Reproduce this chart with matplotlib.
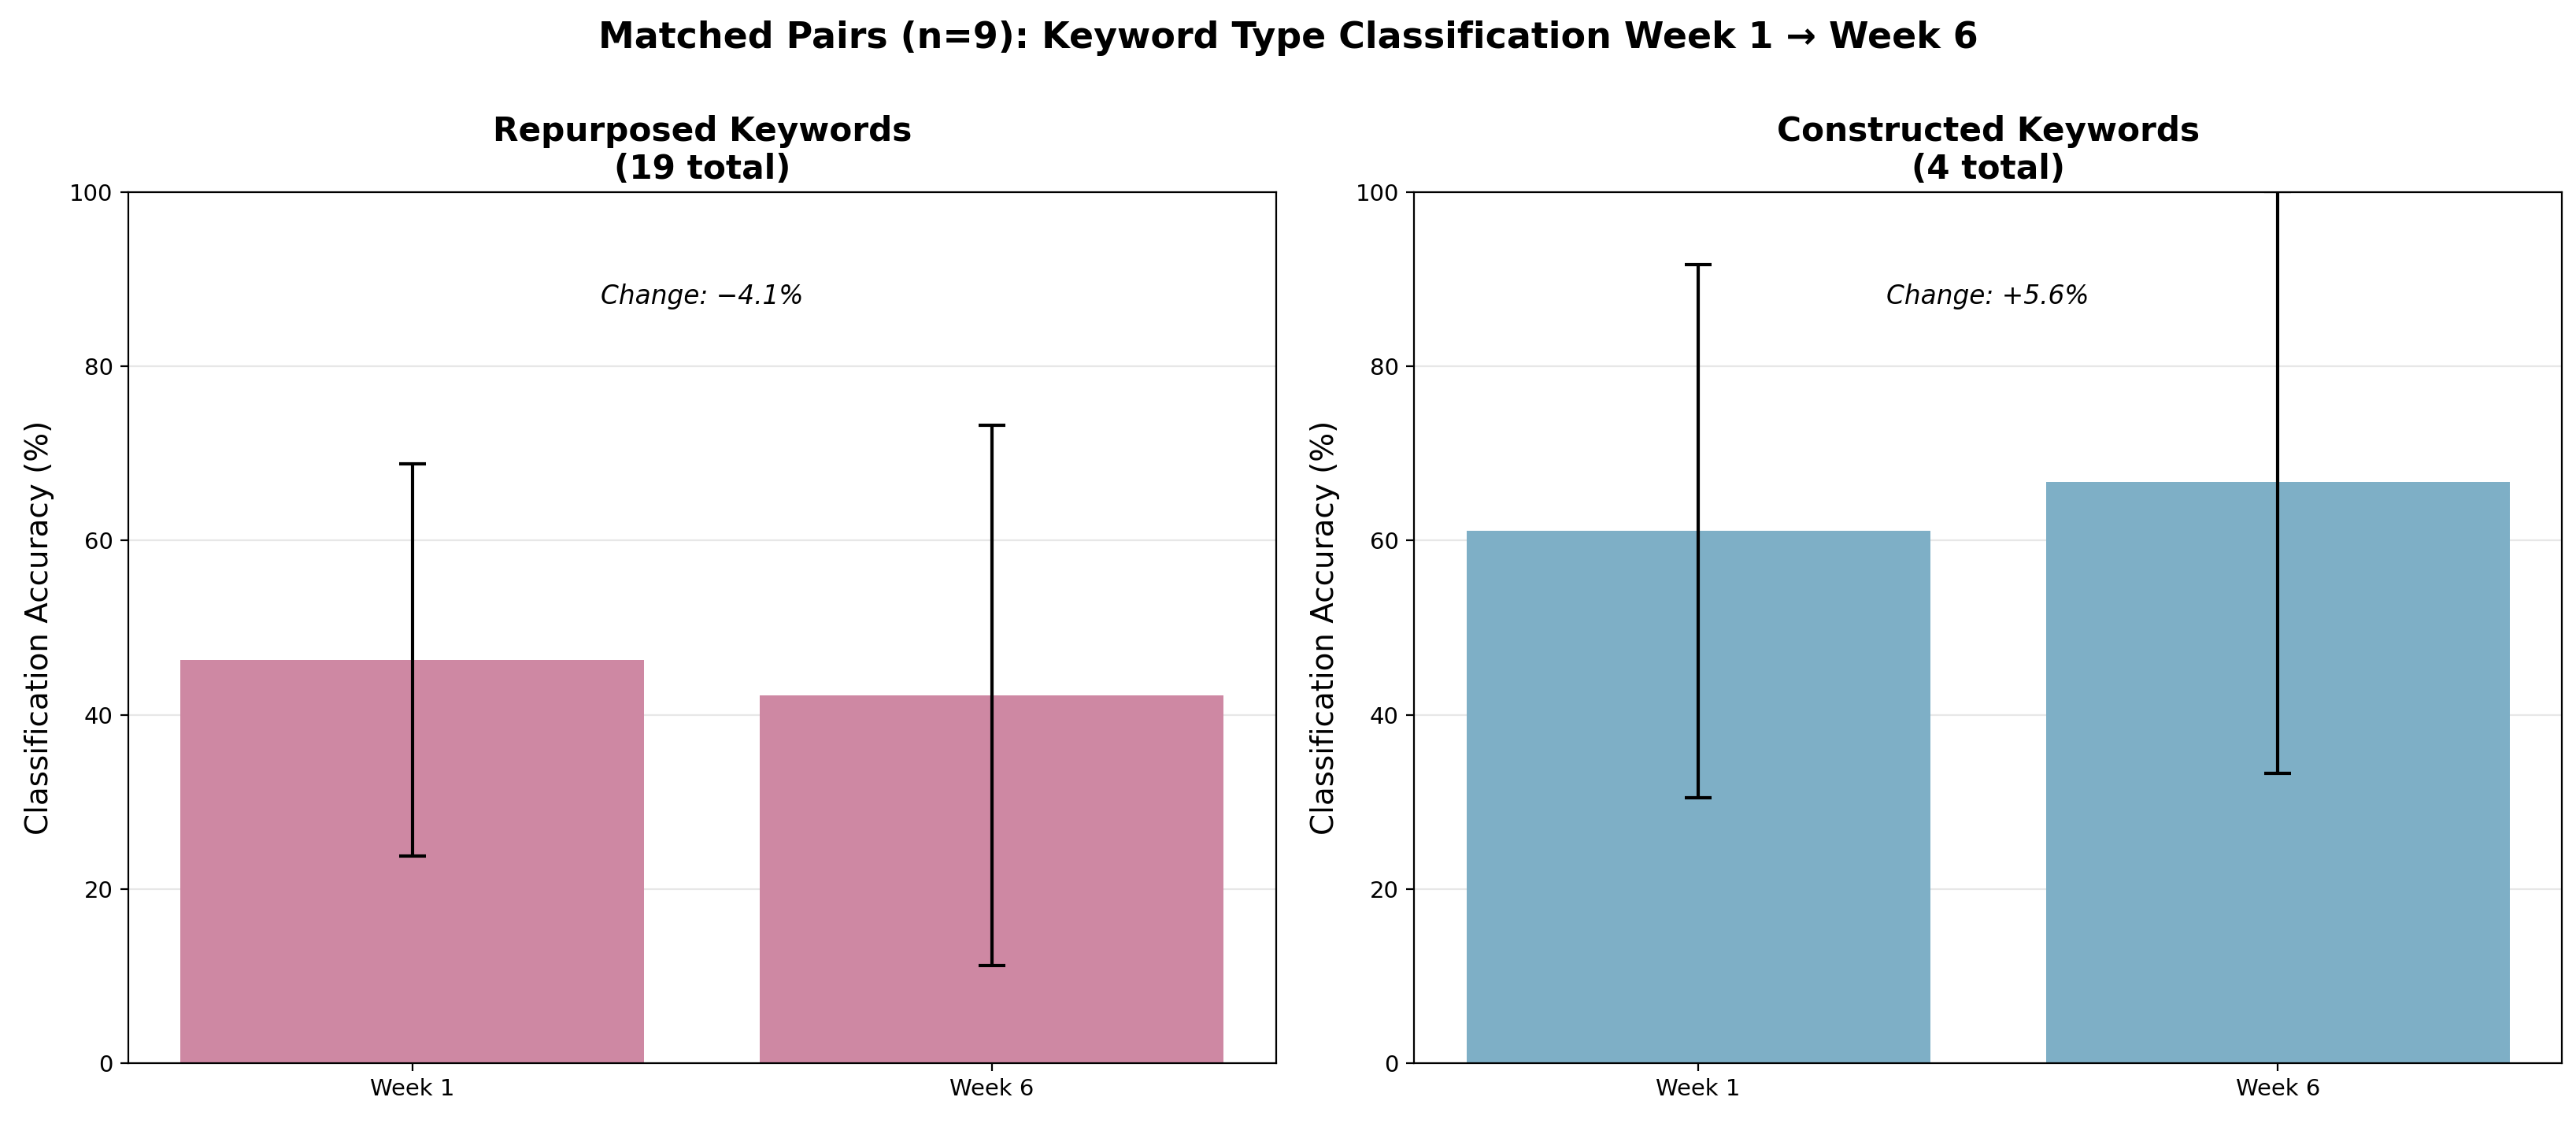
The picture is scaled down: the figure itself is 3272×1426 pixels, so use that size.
import numpy as np
import matplotlib.pyplot as plt

# Datos (media y desviacion estandar, %)
semanas = ['Week 1', 'Week 6']
repurposed_media = [46.3, 42.2]
repurposed_sd = [22.5, 31.0]
constructed_media = [61.1, 66.7]
constructed_sd = [30.6, 33.4]
paneles = ['Repurposed Keywords\n(19 total)', 'Constructed Keywords\n(4 total)']
cambios = ['Change: \u22124.1%', 'Change: +5.6%']
colores = ['#CE88A3', '#7EAFC6']

fig, axes = plt.subplots(1, 2, figsize=(16.365, 7.13), dpi=200)
fig.subplots_adjust(left=0.0498, right=0.9942, top=0.8289, bottom=0.0533, wspace=0.1205)

datos = [(repurposed_media, repurposed_sd), (constructed_media, constructed_sd)]
x = np.arange(len(semanas))
for ax, (media, sd), titulo, cambio, color in zip(axes, datos, paneles, cambios, colores):
    ax.bar(x, media, width=0.8, color=color, yerr=sd, capsize=6,
           error_kw={'elinewidth': 1.5, 'capthick': 1.5, 'ecolor': 'black'}, zorder=2)
    ax.set_xticks(x)
    ax.set_xticklabels(semanas, fontsize=10.5)
    ax.set_ylim(0, 100)
    ax.set_ylabel('Classification Accuracy (%)', fontsize=14, labelpad=7)
    ax.set_title(titulo, fontsize=15.2, fontweight='bold')
    ax.grid(axis='y', alpha=0.3, zorder=0)
    ax.set_axisbelow(True)
    ax.tick_params(axis='y', labelsize=10.5)
    ax.text(0.5, 0.88, cambio, transform=ax.transAxes, ha='center', va='center',
            fontsize=11.8, style='italic')

fig.suptitle('Matched Pairs (n=9): Keyword Type Classification Week 1 \u2192 Week 6',
             fontsize=16.5, fontweight='bold', y=0.966, va='center')

plt.savefig('out.png', dpi=200)
